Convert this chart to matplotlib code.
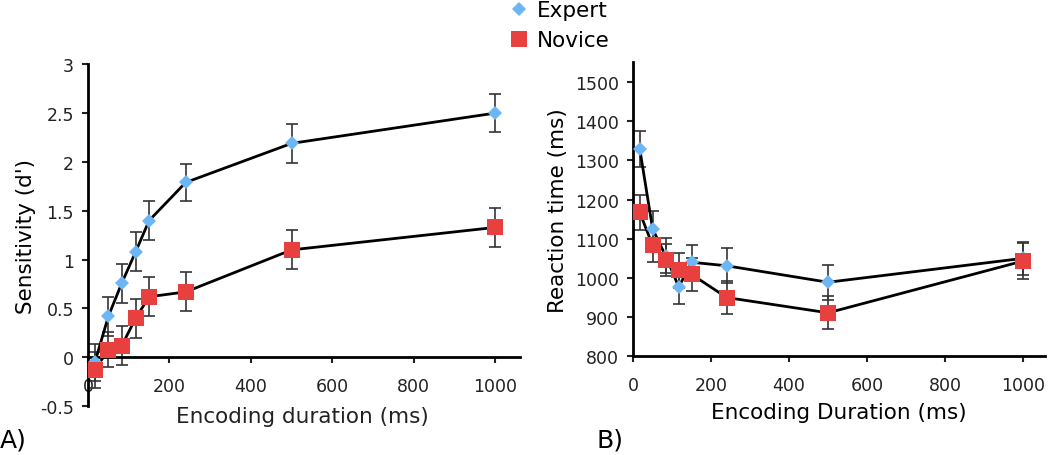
import numpy as np
import matplotlib
matplotlib.use("Agg")
import matplotlib.pyplot as plt
from matplotlib.lines import Line2D

# encoding durations (ms)
durations = [17, 50, 83, 117, 150, 240, 500, 1000]

# panel A: sensitivity (d')
expert_dprime = [-0.05, 0.42, 0.76, 1.08, 1.40, 1.79, 2.19, 2.50]
expert_dprime_err = [0.19, 0.20, 0.20, 0.20, 0.20, 0.19, 0.20, 0.19]
novice_dprime = [-0.13, 0.08, 0.12, 0.40, 0.62, 0.67, 1.10, 1.33]
novice_dprime_err = [0.18, 0.18, 0.20, 0.20, 0.20, 0.20, 0.20, 0.20]

# panel B: reaction time (ms)
expert_rt = [1329, 1125, 1057, 977, 1040, 1031, 989, 1050]
expert_rt_err = [45, 45, 45, 44, 45, 45, 45, 42]
novice_rt = [1167, 1083, 1046, 1019, 1009, 950, 911, 1043]
novice_rt_err = [45, 42, 40, 45, 42, 42, 42, 45]

expert_color = '#6cb6f5'
novice_color = '#e8403e'
err_color = '#333333'

plt.rcParams['font.family'] = ['DejaVu Sans']

fig = plt.figure(figsize=(10.5, 4.56), dpi=100)
ax1 = fig.add_axes([0.0838, 0.107, 0.4112, 0.750])
ax2 = fig.add_axes([0.603, 0.2164, 0.392, 0.6446])


def draw_series(ax, y, yerr, marker, color, ms):
    ax.errorbar(durations, y, yerr=yerr, fmt='none', ecolor=err_color,
                elinewidth=1.2, capsize=4, capthick=1.2, zorder=2)
    ax.plot(durations, y, color='black', lw=2, zorder=3)
    ax.plot(durations, y, linestyle='none', marker=marker, color=color,
            markersize=ms, markeredgewidth=0, zorder=4)


def style_axis(ax):
    for side in ['top', 'right']:
        ax.spines[side].set_visible(False)
    for side in ['left', 'bottom']:
        ax.spines[side].set_linewidth(2)
    ax.tick_params(axis='both', direction='out', length=4, width=1.5,
                   labelsize=12.5, colors='#222222')
    ax.tick_params(axis='x', pad=10)
    ax.tick_params(axis='y', pad=6)


# panel A
draw_series(ax1, expert_dprime, expert_dprime_err, 'D', expert_color, 7)
draw_series(ax1, novice_dprime, novice_dprime_err, 's', novice_color, 11)
ax1.set_xlim(0, 1060)
ax1.set_ylim(-0.5, 3)
ax1.set_xticks([0, 200, 400, 600, 800, 1000])
ax1.set_yticks([-0.5, 0, 0.5, 1, 1.5, 2, 2.5, 3])
ax1.set_yticklabels(['-0.5', '0', '0.5', '1', '1.5', '2', '2.5', '3'])
style_axis(ax1)
ax1.spines['bottom'].set_position(('data', 0))
ax1.set_ylabel("Sensitivity (d')", fontsize=15.5, labelpad=3)
fig.text(0.288, 0.086, 'Encoding duration (ms)', ha='center', va='center',
         fontsize=15.5, color='#222222')

# panel B
draw_series(ax2, expert_rt, expert_rt_err, 'D', expert_color, 7)
draw_series(ax2, novice_rt, novice_rt_err, 's', novice_color, 11)
ax2.set_xlim(0, 1056)
ax2.set_ylim(800, 1550)
ax2.set_xticks([0, 200, 400, 600, 800, 1000])
ax2.set_yticks([800, 900, 1000, 1100, 1200, 1300, 1400, 1500])
style_axis(ax2)
ax2.set_ylabel('Reaction time (ms)', fontsize=15.5, labelpad=5)
ax2.set_xlabel('Encoding Duration (ms)', fontsize=15.5, labelpad=6)

# panel letters
fig.text(0.0, 0.035, 'A)', fontsize=18, ha='left', va='center')
fig.text(0.568, 0.035, 'B)', fontsize=18, ha='left', va='center')

# legend
handles = [
    Line2D([], [], linestyle='none', marker='D', color=expert_color,
           markersize=7, markeredgewidth=0),
    Line2D([], [], linestyle='none', marker='s', color=novice_color,
           markersize=11, markeredgewidth=0),
]
fig.legend(handles, ['Expert', 'Novice'], loc='upper left',
           bbox_to_anchor=(0.47, 1.03), frameon=False, fontsize=15.5,
           handlelength=1.0, handletextpad=0.3, labelspacing=0.45,
           borderpad=0.2)

fig.savefig('out.png', dpi=100)
